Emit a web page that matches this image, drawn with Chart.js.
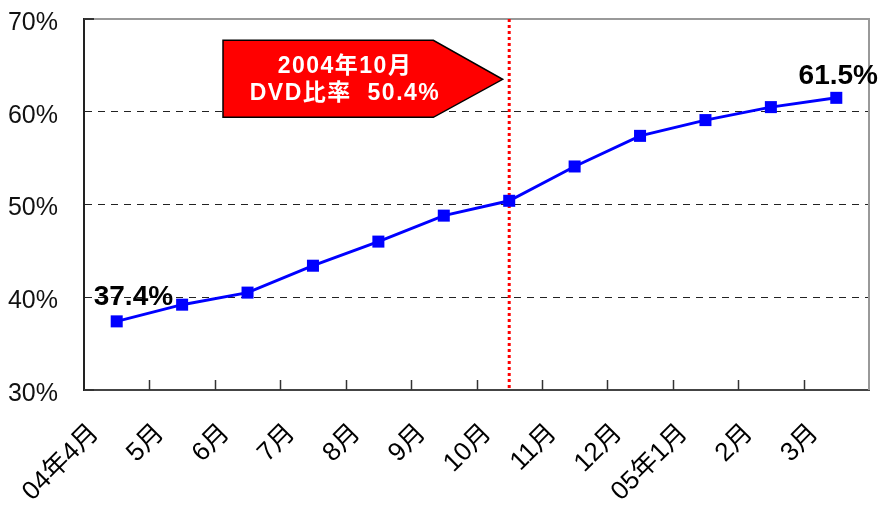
<!DOCTYPE html>
<html><head><meta charset="utf-8">
<script src="https://cdn.jsdelivr.net/npm/chart.js@4/dist/chart.umd.min.js"></script>
<style>html,body{margin:0;padding:0;background:#fff}#wrap{width:880px;height:510px}</style>
</head><body><div id="wrap"><canvas id="c" width="880" height="510"></canvas></div>
<script>
const categories = ['04年4月','5月','6月','7月','8月','9月','10月','11月','12月','05年1月','2月','3月'];
const dvdRatio = [37.4, 39.2, 40.5, 43.4, 46.0, 48.8, 50.4, 54.1, 57.4, 59.1, 60.5, 61.5];
const yTicks = [30, 40, 50, 60, 70];
const calloutLines = ['2004年10月', 'DVD比率  50.4%'];
const markerCategory = '10月';

const FONT = '"Liberation Sans", Arial, "Noto Sans CJK JP", sans-serif';

const decor = {
  id: 'decor',
  beforeDatasetsDraw(chart) {
    const {ctx, chartArea: a, scales: {x, y}} = chart;
    ctx.save();
    ctx.strokeStyle = '#999';
    ctx.lineWidth = 2;
    ctx.beginPath();
    ctx.moveTo(a.left, a.top); ctx.lineTo(a.right, a.top); ctx.lineTo(a.right, a.bottom);
    ctx.stroke();
    ctx.strokeStyle = '#333';
    ctx.lineWidth = 1.5;
    for (let i = 1; i < categories.length; i++) {
      const px = Math.round((x.getPixelForValue(i - 1) + x.getPixelForValue(i)) / 2) + 0.5;
      ctx.beginPath(); ctx.moveTo(px, a.bottom); ctx.lineTo(px, a.bottom - 10); ctx.stroke();
    }
    ctx.lineWidth = 2;
    [yTicks[0], yTicks[yTicks.length - 1]].forEach(v => {
      const py = y.getPixelForValue(v);
      ctx.beginPath(); ctx.moveTo(a.left, py); ctx.lineTo(a.left + 10, py); ctx.stroke();
    });
    const mx = x.getPixelForValue(categories.indexOf(markerCategory));
    ctx.strokeStyle = '#ff0000';
    ctx.lineWidth = 3;
    ctx.setLineDash([3, 3]);
    ctx.beginPath(); ctx.moveTo(mx, a.top); ctx.lineTo(mx, a.bottom); ctx.stroke();
    ctx.setLineDash([]);
    const L = x.getPixelForValue(1.625), S = x.getPixelForValue(4.84), T = x.getPixelForValue(5.9);
    const top = y.getPixelForValue(67.7), bot = y.getPixelForValue(59.4), mid = y.getPixelForValue(63.5);
    ctx.fillStyle = '#ff0000';
    ctx.strokeStyle = '#000';
    ctx.lineWidth = 1.5;
    ctx.beginPath();
    ctx.moveTo(L, top); ctx.lineTo(S, top); ctx.lineTo(T, mid); ctx.lineTo(S, bot); ctx.lineTo(L, bot); ctx.closePath();
    ctx.fill(); ctx.stroke();
    ctx.fillStyle = '#fff';
    ctx.font = 'bold 23px ' + FONT;
    try { ctx.letterSpacing = '1.5px'; } catch (e) {}
    ctx.textAlign = 'center';
    ctx.textBaseline = 'middle';
    const cx = x.getPixelForValue(3.49);
    ctx.fillText(calloutLines[0], cx, y.getPixelForValue(64.9));
    ctx.fillText(calloutLines[1], cx, y.getPixelForValue(61.9));
    ctx.restore();
  },
  afterDatasetsDraw(chart) {
    const {ctx} = chart;
    const meta = chart.getDatasetMeta(0);
    const first = meta.data[0], last = meta.data[meta.data.length - 1];
    ctx.save();
    ctx.fillStyle = '#000';
    ctx.font = 'bold 28px ' + FONT;
    ctx.textBaseline = 'middle';
    ctx.textAlign = 'left';
    ctx.fillText(dvdRatio[0].toFixed(1) + '%', first.x - 23, first.y - 24);
    ctx.textAlign = 'center';
    ctx.fillText(dvdRatio[dvdRatio.length - 1].toFixed(1) + '%', last.x + 2, last.y - 22);
    ctx.restore();
  }
};

new Chart(document.getElementById('c'), {
  type: 'line',
  data: {
    labels: categories,
    datasets: [{
      data: dvdRatio,
      borderColor: '#0000ff',
      backgroundColor: '#0000ff',
      borderWidth: 3,
      pointStyle: 'rect',
      pointRadius: 8.5,
      pointBorderWidth: 0,
      tension: 0,
      clip: false
    }]
  },
  options: {
    responsive: false,
    animation: false,
    devicePixelRatio: 1,
    layout: {padding: {top: 19, right: 11, left: 0, bottom: 0}},
    plugins: {legend: {display: false}, tooltip: {enabled: false}},
    scales: {
      x: {
        type: 'category',
        offset: true,
        grid: {display: false, drawTicks: false},
        border: {display: true, color: '#444', width: 2},
        ticks: {
          autoSkip: false,
          minRotation: 45, maxRotation: 45,
          labelOffset: -22,
          padding: 28,
          color: '#000',
          font: {family: FONT, size: 26}
        },
        afterFit(s) { s.height = 120; s.paddingLeft = 0; s.paddingRight = 0; s.paddingTop = 0; s.paddingBottom = 0; }
      },
      y: {
        min: 30, max: 70,
        afterBuildTicks(s) { s.ticks = yTicks.map(v => ({value: v})); },
        grid: {
          drawTicks: false,
          color: c => (c.tick && (c.tick.value === 30 || c.tick.value === 70)) ? 'rgba(0,0,0,0)' : '#222',
          lineWidth: 1
        },
        border: {display: true, color: '#222', width: 2, dash: [7, 6]},
        ticks: {
          padding: 26,
          labelOffset: 4,
          color: '#111',
          font: {family: FONT, size: 25},
          callback: v => v + '%'
        },
        afterFit(s) { s.width = 84; s.paddingTop = 0; s.paddingBottom = 0; s.paddingLeft = 0; s.paddingRight = 0; }
      }
    }
  },
  plugins: [decor]
});
</script>
</body></html>
